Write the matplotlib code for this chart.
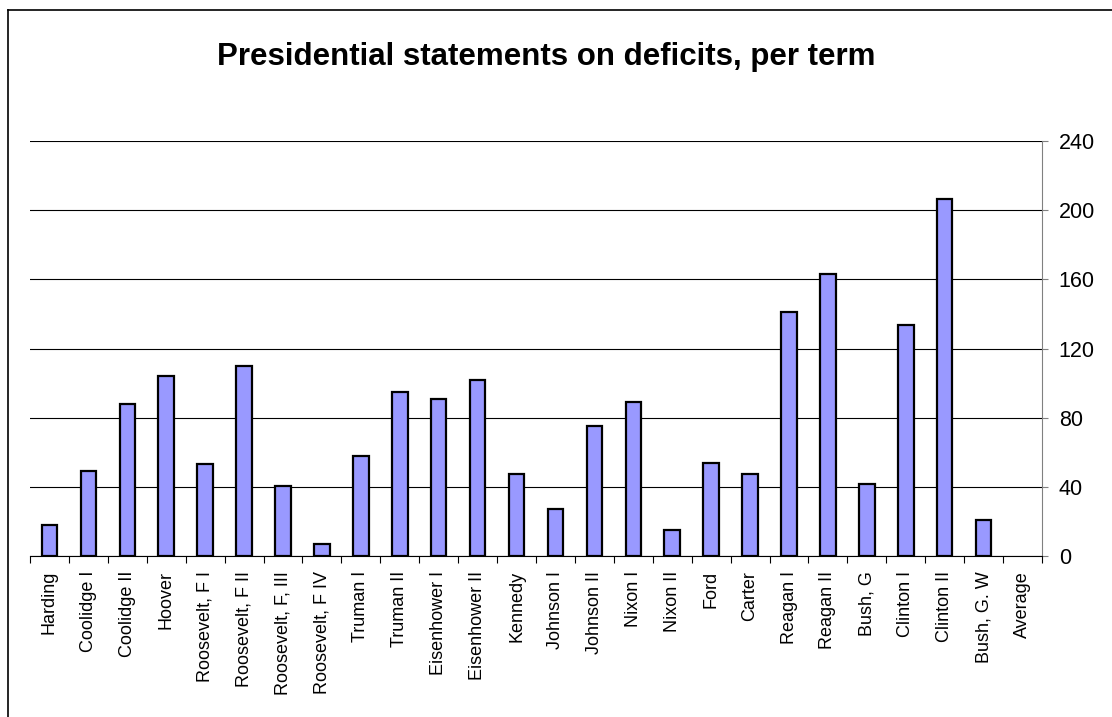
import matplotlib
matplotlib.use('Agg')
import matplotlib.pyplot as plt
from matplotlib.lines import Line2D
import numpy as np

plt.rcParams['font.family'] = ['Liberation Sans', 'DejaVu Sans']

# termeni prezidentiali si numarul de declaratii despre deficit
termeni = ['Harding', 'Coolidge I', 'Coolidge II', 'Hoover', 'Roosevelt, F I',
           'Roosevelt, F II', 'Roosevelt, F, III', 'Roosevelt, F IV', 'Truman I',
           'Truman II', 'Eisenhower I', 'Eisenhower II', 'Kennedy', 'Johnson I',
           'Johnson II', 'Nixon I', 'Nixon II', 'Ford', 'Carter', 'Reagan I',
           'Reagan II', 'Bush, G', 'Clinton I', 'Clinton II', 'Bush, G. W', 'Average']
declaratii = [18, 49, 88, 104, 53, 110, 40.5, 7, 58, 95, 91, 102, 47.5, 27,
              75, 89, 15, 53.5, 47.5, 141, 163, 41.5, 133.5, 206.5, 20.5, 0]
y_ticks = [0, 40, 80, 120, 160, 200, 240]

fig = plt.figure(figsize=(11.12, 7.17), dpi=100)
ax = fig.add_axes([30 / 1112, 1 - 555.7 / 717, (1042 - 30) / 1112, (555.7 - 141.3) / 717])

x = np.arange(len(termeni))
# fara contur pentru valorile zero (Average nu are bara)
contur = ['black' if v > 0 else 'none' for v in declaratii]
ax.bar(x, declaratii, width=0.4, color='#9999FF', edgecolor=contur, linewidth=1.6, zorder=3)

ax.set_xlim(-0.5, len(termeni) - 0.5)
ax.set_ylim(0, 240)
ax.set_yticks(y_ticks)
ax.yaxis.tick_right()
ax.tick_params(axis='y', labelsize=15.5, length=4, pad=8, color='#808080')
ax.grid(axis='y', color='black', linewidth=0.8, zorder=0)

ax.set_xticks(x)
ax.set_xticklabels(termeni, rotation=90, fontsize=13, va='top')
ax.tick_params(axis='x', which='major', length=0, pad=11)
ax.set_xticks(np.arange(-0.5, len(termeni), 1), minor=True)
ax.tick_params(axis='x', which='minor', length=5, width=0.8, color='black')

for s in ['top', 'left']:
    ax.spines[s].set_visible(False)
ax.spines['right'].set_color('#808080')
ax.spines['bottom'].set_color('black')

fig.text(546 / 1112, 1 - 57 / 717, 'Presidential statements on deficits, per term',
         ha='center', va='center', fontsize=22.5, fontweight='bold')

# chenarul graficului (doar sus si stanga sunt vizibile)
fig.add_artist(Line2D([8 / 1112, 8 / 1112], [0, 1 - 10 / 717], color='black', linewidth=1.2))
fig.add_artist(Line2D([8 / 1112, 1], [1 - 10 / 717, 1 - 10 / 717], color='black', linewidth=1.2))

fig.savefig('out.png', dpi=100)
